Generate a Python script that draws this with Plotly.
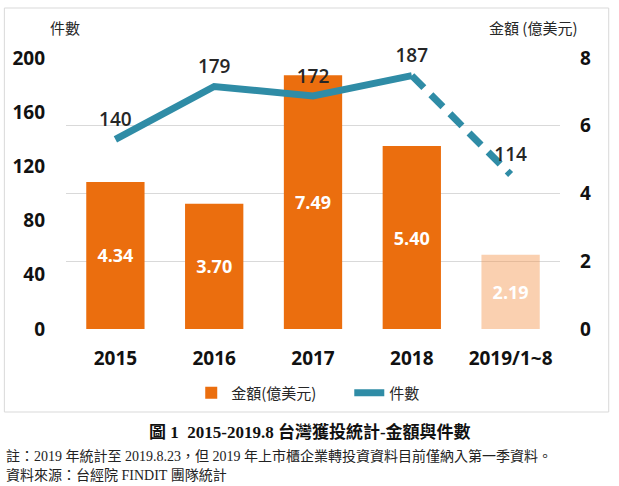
import plotly.graph_objects as go

# data
years = ["2015", "2016", "2017", "2018", "2019/1~8"]
amount = [4.34, 3.70, 7.49, 5.40, 2.19]      # 金額 (億美元)
deals = [140, 179, 172, 187, 114]             # 件數
amount_ticks = [0, 2, 4, 6, 8]
deal_ticks = [0, 40, 80, 120, 160, 200]

ORANGE = "#EB6E0E"
ORANGE_LIGHT = "rgba(245,150,80,0.45)"
TEAL = "#2F8CA6"
CJK = "Noto Sans CJK TC"
NUM = "Open Sans, Noto Sans CJK TC"
SERIF = "Liberation Serif, Noto Sans CJK TC"

W, H = 619, 486
L, R, T, B = 63, 59, 58, 157
pw, ph = W - L - R, H - T - B


def px(x):
    return (x - L) / pw


def py(y):
    return (H - B - y) / ph


fig = go.Figure()

bar_colors = [ORANGE] * (len(years) - 1) + [ORANGE_LIGHT]
fig.add_trace(go.Bar(
    x=years, y=amount, name="金額(億美元)",
    marker=dict(color=bar_colors, line=dict(width=0)),
    text=[f"{v:.2f}" for v in amount],
    textposition="inside", insidetextanchor="middle", textangle=0,
    textfont=dict(family=NUM, size=18, color="white", weight="bold"),
    yaxis="y", legend="legend",
))

# solid part of the count line (full years)
fig.add_trace(go.Scatter(
    x=years[:-1], y=deals[:-1], name="件數", mode="lines+markers+text",
    line=dict(color=TEAL, width=7),
    marker=dict(size=12, color="rgba(0,0,0,0)"),
    text=[str(v) for v in deals[:-1]], textposition="top center",
    textfont=dict(family=NUM, size=19, color="#262626", weight=600),
    yaxis="y2", cliponaxis=False, legend="legend2",
))
# dashed part to the partial year
fig.add_trace(go.Scatter(
    x=years[-2:], y=deals[-2:], mode="lines+markers+text", showlegend=False,
    line=dict(color=TEAL, width=7, dash="17px,10px"),
    marker=dict(size=12, color="rgba(0,0,0,0)"),
    text=["", str(deals[-1])], textposition="top center",
    textfont=dict(family=NUM, size=19, color="#262626", weight=600),
    yaxis="y2", cliponaxis=False,
))

legend_font = dict(family=CJK, size=15, color="#262626")
fig.update_layout(
    width=W, height=H,
    margin=dict(l=L, r=R, t=T, b=B),
    paper_bgcolor="white", plot_bgcolor="white",
    bargap=0.41,
    showlegend=True,
    legend=dict(orientation="h", x=px(189), xanchor="left",
                y=py(393), yanchor="middle", font=legend_font),
    legend2=dict(orientation="h", x=px(348), xanchor="left",
                 y=py(393), yanchor="middle", font=legend_font),
    xaxis=dict(type="category", range=[-0.5, len(years) - 0.5],
               showgrid=False, showline=False, zeroline=False,
               ticks="", ticklabelstandoff=16,
               tickfont=dict(family=NUM, size=19, color="#111", weight="bold")),
    yaxis=dict(side="right", range=[0, 8], tickvals=amount_ticks,
               showgrid=True, gridcolor="#D9D9D9", gridwidth=1,
               zeroline=False, showline=False, ticks="",
               ticklabelstandoff=19,
               tickfont=dict(family=NUM, size=19, color="#111", weight="bold")),
    yaxis2=dict(side="left", overlaying="y", range=[0, 200], tickvals=deal_ticks,
                showgrid=False, zeroline=False, showline=False, ticks="",
                ticklabelstandoff=20,
                tickfont=dict(family=NUM, size=19, color="#111", weight="bold")),
)

# chart frame
fig.add_shape(type="rect", xref="paper", yref="paper",
              x0=px(1), x1=px(609), y0=py(412), y1=py(8),
              line=dict(color="#D9D9D9", width=1), fillcolor="rgba(0,0,0,0)",
              layer="below")

# axis titles
fig.add_annotation(text="件數", xref="paper", yref="paper", x=px(62), y=py(27),
                   xanchor="center", yanchor="middle", showarrow=False,
                   font=dict(family=CJK, size=15, color="#262626"))
fig.add_annotation(text="金額 (億美元)", xref="paper", yref="paper", x=px(533), y=py(28),
                   xanchor="center", yanchor="middle", showarrow=False,
                   font=dict(family=CJK, size=15, color="#262626"))

# caption and notes
fig.add_annotation(text="<b>圖 1  2015-2019.8 台灣獲投統計-金額與件數</b>",
                   xref="paper", yref="paper", x=px(308), y=py(432),
                   xanchor="center", yanchor="middle", showarrow=False,
                   font=dict(family=SERIF, size=17, color="#111"))
fig.add_annotation(text="註：2019 年統計至 2019.8.23，但 2019 年上市櫃企業轉投資資料目前僅納入第一季資料。",
                   xref="paper", yref="paper", x=px(1), y=py(456),
                   xanchor="left", yanchor="middle", showarrow=False,
                   font=dict(family=SERIF, size=14, color="#222"))
fig.add_annotation(text="資料來源：台經院 FINDIT 團隊統計",
                   xref="paper", yref="paper", x=px(1), y=py(475),
                   xanchor="left", yanchor="middle", showarrow=False,
                   font=dict(family=SERIF, size=14, color="#222"))

# drop the default 8px page margin so the figure sits at the window corner
fig.write_html("out.html", config={"displayModeBar": False},
               post_script="document.body.style.margin='0';")
